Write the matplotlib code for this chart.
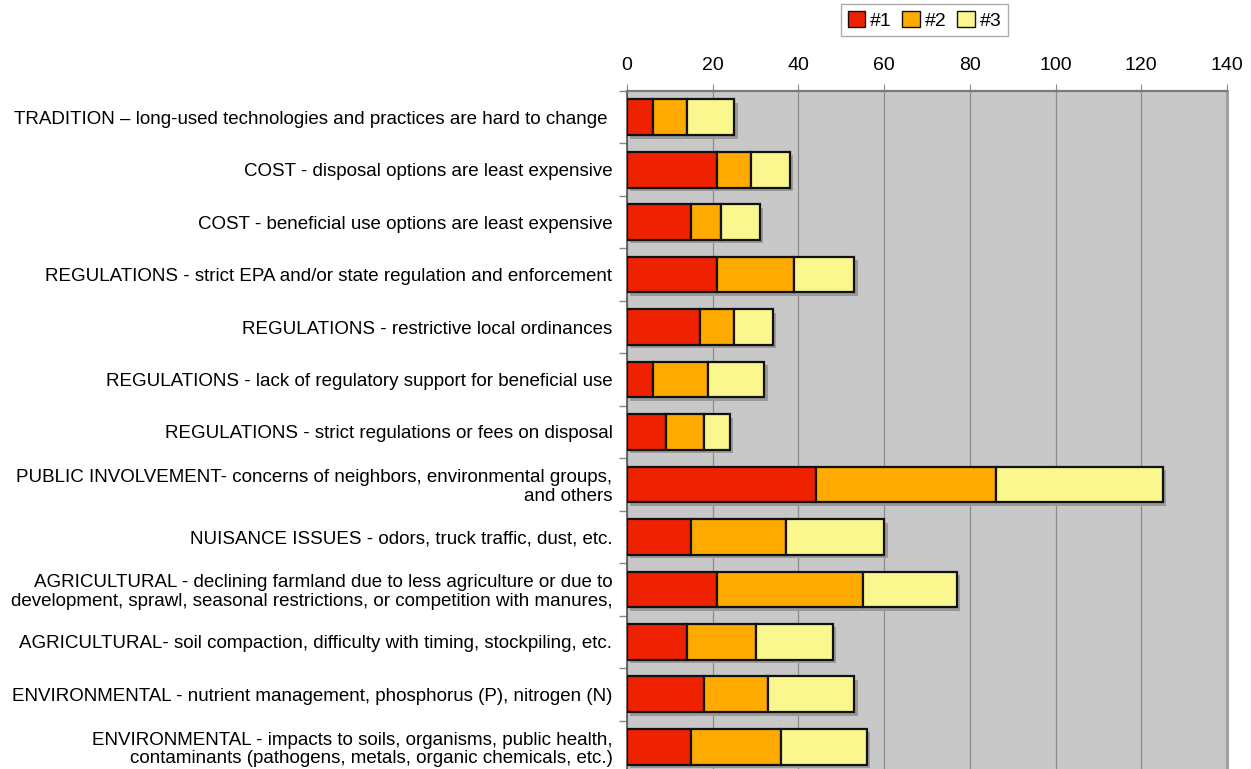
import matplotlib
matplotlib.use("Agg")
import matplotlib.pyplot as plt
import matplotlib.patheffects as pe
from matplotlib.ticker import FixedLocator
import numpy as np

plt.rcParams['font.family'] = ['Liberation Sans', 'DejaVu Sans']

categories = [
    "TRADITION \u2013 long-used technologies and practices are hard to change ",
    "COST - disposal options are least expensive",
    "COST - beneficial use options are least expensive",
    "REGULATIONS - strict EPA and/or state regulation and enforcement",
    "REGULATIONS - restrictive local ordinances",
    "REGULATIONS - lack of regulatory support for beneficial use",
    "REGULATIONS - strict regulations or fees on disposal",
    "PUBLIC INVOLVEMENT- concerns of neighbors, environmental groups,\nand others",
    "NUISANCE ISSUES - odors, truck traffic, dust, etc.",
    "AGRICULTURAL - declining farmland due to less agriculture or due to\ndevelopment, sprawl, seasonal restrictions, or competition with manures,",
    "AGRICULTURAL- soil compaction, difficulty with timing, stockpiling, etc.",
    "ENVIRONMENTAL - nutrient management, phosphorus (P), nitrogen (N)",
    "ENVIRONMENTAL - impacts to soils, organisms, public health,\ncontaminants (pathogens, metals, organic chemicals, etc.)",
]
rank1 = [6, 21, 15, 21, 17, 6, 9, 44, 15, 21, 14, 18, 15]
rank2 = [8, 8, 7, 18, 8, 13, 9, 42, 22, 34, 16, 15, 21]
rank3 = [11, 9, 9, 14, 9, 13, 6, 39, 23, 22, 18, 20, 20]
series_names = ["#1", "#2", "#3"]
colors = ["#EE2200", "#FFAA00", "#FBF78F"]
xticks = [0, 20, 40, 60, 80, 100, 120, 140]

W, H = 1251, 769
fig = plt.figure(figsize=(W / 100, H / 100), dpi=100)
ax = fig.add_axes([627 / W, 1 - 773 / H, 600 / W, (773 - 91) / H])
ax.set_facecolor("#C8C8C8")

n = len(categories)
y = np.arange(n)
shadow = [pe.SimplePatchShadow(offset=(2.5, -2.5), shadow_rgbFace="#9A9A9A", alpha=1.0), pe.Normal()]
left = np.zeros(n)
for vals, name, col in zip([rank1, rank2, rank3], series_names, colors):
    bars = ax.barh(y, vals, left=left, height=0.68, color=col, edgecolor="#111111",
                   linewidth=1.6, label=name, zorder=3)
    for b in bars:
        b.set_path_effects(shadow)
    left = left + np.array(vals)

ax.set_xlim(0, 140)
ax.set_ylim(n - 0.5, -0.5)
ax.xaxis.tick_top()
ax.set_xticks(xticks)
ax.set_xticklabels([str(t) for t in xticks], fontsize=14)
ax.tick_params(axis='x', which='major', length=5, color="#888888", pad=7, top=True, bottom=False)
ax.grid(axis='x', color="#8C8C8C", linewidth=0.9, zorder=0)
ax.set_axisbelow(True)

ax.set_yticks(y)
ax.set_yticklabels(categories, fontsize=13.5, ha='right', multialignment='right', linespacing=1.12)
ax.tick_params(axis='y', which='major', length=0, pad=10.5)
ax.yaxis.set_minor_locator(FixedLocator(np.arange(n + 1) - 0.5))
ax.tick_params(axis='y', which='minor', length=6, color="#888888", width=1)

ax.spines['top'].set_color("#7A7A7A")
ax.spines['top'].set_linewidth(1.6)
ax.spines['left'].set_color("#555555")
ax.spines['left'].set_linewidth(1.2)
ax.spines['right'].set_color("#A0A0A0")
ax.spines['right'].set_linewidth(2.2)
ax.spines['bottom'].set_visible(False)

leg = fig.legend(loc='upper center', bbox_to_anchor=(924.5 / W, 1 - 4 / H), ncol=3,
                 fontsize=14, frameon=True, fancybox=False, edgecolor="#999999",
                 handlelength=0.9, handleheight=0.9, handletextpad=0.25, columnspacing=0.55,
                 borderpad=0.35, borderaxespad=0)
leg.get_frame().set_linewidth(1.0)
for h in leg.legend_handles:
    h.set_path_effects([])
    h.set_linewidth(1.0)

fig.savefig("out.png", dpi=100)
